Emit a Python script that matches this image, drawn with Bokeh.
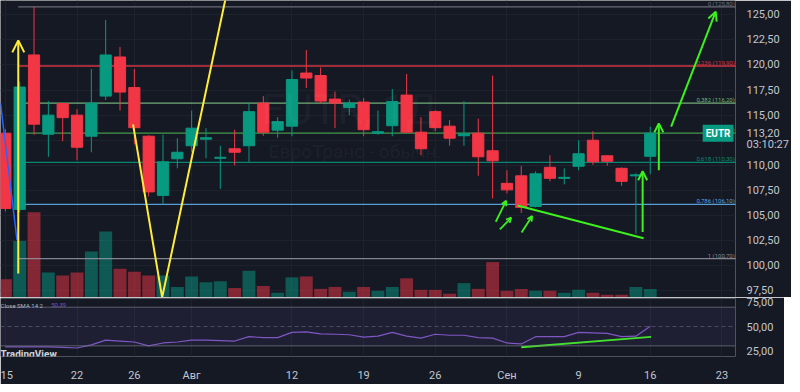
from bokeh.plotting import figure
from bokeh.layouts import column
from bokeh.models import (Range1d, FixedTicker, CustomJSTickFormatter, Label, Arrow,
                          OpenHead, Span, BoxAnnotation, ColumnDataSource)
from bokeh.core.properties import value
from bokeh.embed import file_html
from bokeh.resources import INLINE

# ---------------- data ----------------
day_index = list(range(46))
open_ = [113.2, 105.6, 121.0, 113.1, 116.15, 115.0, 112.9, 116.9, 120.8, 117.75,
         112.9, 107.0, 110.65, 111.95, 112.6, 110.7, 111.65, 111.95, 116.2, 113.5,
         113.9, 119.2, 118.95, 116.6, 115.75, 116.3, 113.2, 113.95, 117.0, 113.3,
         115.35, 113.9, 112.95, 113.2, 111.45, 108.2, 108.95, 105.9, 109.8, 108.7,
         109.9, 112.5, 110.95, 109.7, 108.95, 110.9]
high = [113.6, 118.3, 125.8, 116.4, 116.2, 115.6, 119.6, 124.5, 121.8, 119.6,
        113.0, 113.05, 112.7, 115.45, 113.7, 111.95, 113.55, 116.3, 116.9, 114.8,
        119.45, 121.5, 119.75, 117.35, 116.55, 116.7, 115.45, 117.6, 119.1, 114.8,
        115.5, 114.5, 116.4, 114.65, 118.95, 109.5, 109.95, 109.4, 111.0, 109.7,
        112.5, 113.4, 111.0, 109.8, 109.2, 113.85]
low = [105.4, 105.3, 113.05, 110.85, 112.4, 110.5, 111.3, 116.5, 115.45, 112.1,
       106.9, 106.1, 109.7, 111.3, 110.7, 107.65, 110.0, 110.35, 112.95, 112.75,
       112.9, 117.7, 116.2, 113.7, 115.0, 112.9, 113.05, 112.9, 113.25, 111.0,
       113.4, 111.95, 111.95, 108.95, 106.7, 107.2, 105.25, 105.8, 108.4, 108.1,
       109.5, 110.05, 109.95, 107.95, 103.2, 109.1]
close = [105.7, 117.8, 114.1, 115.0, 114.75, 111.8, 116.2, 121.0, 117.3, 113.75,
         107.35, 110.35, 111.3, 113.7, 112.75, 110.8, 111.3, 115.35, 113.3, 114.35,
         118.55, 118.7, 116.4, 116.2, 116.2, 113.55, 113.35, 116.35, 113.3, 111.65,
         113.75, 112.7, 113.15, 110.85, 110.45, 107.55, 105.8, 109.15, 108.7, 108.8,
         111.15, 110.35, 110.4, 108.4, 109.05, 113.2]
volume = [19, 59, 89, 26, 23, 26, 48, 69, 30, 27,
          23, 23, 11, 22, 16, 17, 10, 28, 12, 5,
          21, 22, 9, 11, 6, 11, 7, 11, 20, 8,
          8, 4, 15, 9, 37, 7, 9, 7, 7, 5,
          8, 5, 3, 3, 11, 9]
rsi = [29, 29, 29, 29, 28.5, 27.8, 31, 36, 35, 34,
       30, 33, 34, 36, 36, 35.5, 35, 39.5, 38.5, 38.5,
       44, 44.5, 42.5, 42, 41.5, 39, 40, 44, 40, 38,
       42, 41, 41, 38.5, 38, 33, 32, 39.5, 39.5, 39.5,
       44, 43.5, 43, 39.5, 40, 50.4]

date_ticks = [0, 5, 9, 13, 20, 25, 30, 35, 40, 45, 50]
date_labels = ["15", "22", "26", "Авг", "12", "19", "26", "Сен", "9", "16", "23"]
price_ticks = [97.5, 100, 102.5, 105, 107.5, 110, 112.5, 115, 117.5, 120, 122.5, 125]
rsi_ticks = [25, 50, 75]

fib_ratios = ["0", "0,236", "0,382", "0,5", "0,618", "0,786", "1"]
fib_levels = [125.80, 119.90, 116.20, 113.20, 110.30, 106.10, 100.70]
fib_start = 0.9

last_price = 113.20
ticker = "EUTR"
countdown = "03:10:27"
rsi_legend = "Close SMA 14 2"
rsi_value = "50,39"

# drawings (index, price) anchor points
yellow_arrow = [(0.90, 99.21), (0.90, 122.45)]
yellow_v = [(8.91, 114.08), (10.94, 96.82), (15.57, 128.0)]
green_big_arrow = [(46.46, 113.85), (49.57, 125.32)]
green_up_arrow_1 = [(45.60, 109.50), (45.60, 114.18)]
green_up_arrow_2 = [(44.47, 103.35), (44.47, 109.40)]
green_trend = [(35.74, 105.99), (44.54, 102.72)]
small_arrows = [[(34.22, 104.37), (34.95, 106.47)],
                [(34.51, 103.61), (35.30, 104.78)],
                [(36.02, 103.29), (36.76, 104.94)]]
blue_line = [(-0.34, 116.21), (0.81, 102.56)]
rsi_trend = [(36.0, 28.5), (45.06, 39.3)]

# ---------------- styles ----------------
BG = "#151924"
GRID = "#1e222d"
UP = "#089981"
DOWN = "#f23645"
TXT = "#b2b5be"
AXT = "#c3c6ce"
YEL = "#ffeb3b"
LIME = "#3df01e"
fib_colors = ["#787b86", "#f23645", "#81c784", "#4caf50", "#089981", "#64b5f6", "#9598a1"]
FONT = "Roboto"
FRAME_W = 735
RIGHT_W = 49

fmt = CustomJSTickFormatter(code="return tick.toFixed(2).replace('.', ',');")

# last-price tag on the price scale: price line + countdown line under it
tag_line2 = last_price - 1.1
axis_ticks = [t for t in price_ticks if abs(t - last_price) > 1.2] + [last_price, tag_line2]
price_fmt = CustomJSTickFormatter(args=dict(t2=tag_line2, cd=countdown), code="""
    if (Math.abs(tick - t2) < 1e-6) { return cd; }
    return tick.toFixed(2).replace('.', ',');
""")

x_range = Range1d(-0.34, 50.95)

p = figure(frame_width=FRAME_W, frame_height=297, x_range=x_range,
           y_range=Range1d(96.82, 126.43), output_backend="svg", toolbar_location=None,
           x_axis_location=None, y_axis_location="right",
           background_fill_color=BG, border_fill_color=BG, outline_line_color=None,
           min_border_left=0, min_border_top=0, min_border_bottom=0, min_border_right=RIGHT_W)
p.extra_y_ranges = {"vol": Range1d(0, 310)}

p.yaxis.ticker = FixedTicker(ticks=axis_ticks)
p.yaxis.formatter = price_fmt
p.yaxis.axis_line_color = None
p.yaxis.major_tick_line_color = None
p.yaxis.minor_tick_line_color = None
p.yaxis.major_label_text_color = AXT
p.yaxis.major_label_text_font = FONT
p.yaxis.major_label_text_font_size = "11px"
p.yaxis.major_label_standoff = 5
p.ygrid.ticker = FixedTicker(ticks=price_ticks)
p.ygrid.grid_line_color = GRID
p.xgrid.ticker = FixedTicker(ticks=date_ticks)
p.xgrid.grid_line_color = GRID

up = [c >= o for o, c in zip(open_, close)]
src = ColumnDataSource(dict(
    x=day_index, o=open_, h=high, l=low, c=close, vol=volume,
    top=[max(o, c) for o, c in zip(open_, close)],
    bottom=[min(o, c) for o, c in zip(open_, close)],
    color=[UP if u else DOWN for u in up],
))

# volume
p.vbar(x="x", width=0.9, top="vol", bottom=0, fill_color="color", fill_alpha=0.5,
       line_color=None, y_range_name="vol", source=src)

# fib levels
p.segment(x0=[fib_start] * len(fib_levels), y0=fib_levels,
          x1=[52] * len(fib_levels), y1=fib_levels,
          line_color=fib_colors, line_width=1.3, line_alpha=0.85)
fib_texts = [f"{r} ({format(v, '.2f').replace('.', ',')})" for r, v in zip(fib_ratios, fib_levels)]
p.text(x=[50.9] * len(fib_levels), y=fib_levels, text=fib_texts, text_color=fib_colors,
       text_font=value(FONT), text_font_size="6px", text_align="right",
       text_baseline="bottom", text_alpha=0.9)

# watermark
p.add_layout(Label(x=24.0, y=115.6, text=f"{ticker}, 1Д", text_align="center",
                   text_baseline="middle", text_font=FONT, text_font_size="42px",
                   text_color="#ffffff", text_alpha=0.05))
p.add_layout(Label(x=24.4, y=111.4, text="ЕвроТранс - обычн.", text_align="center",
                   text_baseline="middle", text_font=FONT, text_font_size="19px",
                   text_color="#ffffff", text_alpha=0.05))

# candles
p.segment(x0="x", y0="l", x1="x", y1="h", line_color="color", line_width=1, source=src)
p.vbar(x="x", width=0.78, top="top", bottom="bottom", fill_color="color",
       line_color="color", line_width=1, source=src)

# drawings
p.line(x=[q[0] for q in blue_line], y=[q[1] for q in blue_line], line_color="#2962ff", line_width=1.5)
p.line(x=[q[0] for q in yellow_v], y=[q[1] for q in yellow_v], line_color=YEL, line_width=2)
p.line(x=[q[0] for q in green_trend], y=[q[1] for q in green_trend], line_color=LIME, line_width=2)


def arrow(pts, color, size=9, w=2):
    (x0, y0), (x1, y1) = pts
    p.add_layout(Arrow(end=OpenHead(size=size, line_color=color, line_width=w),
                       x_start=x0, y_start=y0, x_end=x1, y_end=y1,
                       line_color=color, line_width=w))


arrow(yellow_arrow, YEL, 12)
arrow(green_big_arrow, LIME, 9)
arrow(green_up_arrow_1, LIME, 9)
arrow(green_up_arrow_2, LIME, 9)
for a in small_arrows:
    arrow(a, LIME, 5, 1.8)

# ticker tag at the right edge of the chart
p.add_layout(Label(x=50.95, y=last_price, x_offset=-2, text=ticker, text_align="right",
                   text_baseline="middle", text_font=FONT, text_font_size="10px",
                   text_font_style="bold", text_color="white",
                   background_fill_color=UP, padding=3))

# ---------------- RSI pane ----------------
r = figure(frame_width=FRAME_W, frame_height=58, x_range=x_range, y_range=Range1d(19, 79),
           output_backend="svg", toolbar_location=None,
           x_axis_location="below", y_axis_location="right",
           background_fill_color=BG, border_fill_color=BG, outline_line_color=None,
           min_border_left=0, min_border_top=1, min_border_bottom=0, min_border_right=RIGHT_W)
r.yaxis.ticker = FixedTicker(ticks=rsi_ticks)
r.yaxis.formatter = fmt
for ax in (r.yaxis, r.xaxis):
    ax.axis_line_color = None
    ax.major_tick_line_color = None
    ax.minor_tick_line_color = None
    ax.major_label_text_color = AXT
    ax.major_label_text_font = FONT
    ax.major_label_text_font_size = "11px"
r.yaxis.major_label_standoff = 5
r.xaxis.ticker = FixedTicker(ticks=date_ticks)
r.xaxis.major_label_overrides = {t: s for t, s in zip(date_ticks, date_labels)}
r.xaxis.major_label_standoff = 6
r.xgrid.grid_line_color = GRID
r.ygrid.grid_line_color = None

r.add_layout(BoxAnnotation(bottom=30, top=70, fill_color="#7e57c2", fill_alpha=0.1, line_color=None))
r.add_layout(Span(location=70, dimension="width", line_color="#787b86", line_width=1, line_alpha=0.7))
r.add_layout(Span(location=30, dimension="width", line_color="#787b86", line_width=1, line_alpha=0.7))
r.add_layout(Span(location=50, dimension="width", line_color="#787b86", line_width=1,
                  line_alpha=0.5, line_dash="4 3"))
r.line(x=day_index, y=rsi, line_color="#7e57c2", line_width=1.2)
r.line(x=[q[0] for q in rsi_trend], y=[q[1] for q in rsi_trend], line_color=LIME, line_width=2)

r.add_layout(Label(x=-0.34, y=72, text=rsi_legend, text_align="left", text_baseline="middle",
                   text_font=FONT, text_font_size="6px", text_color=TXT))
r.add_layout(Label(x=3.2, y=72, text=rsi_value, text_align="left", text_baseline="middle",
                   text_font=FONT, text_font_size="6px", text_color="#7e57c2"))
r.add_layout(Label(x=-0.34, y=21, text="TradingView", text_align="left", text_baseline="middle",
                   text_font=FONT, text_font_size="10px", text_font_style="bold",
                   text_color="#d1d4dc"))

layout = column(p, r, spacing=0)
open("out.html", "w").write(file_html(layout, INLINE))
